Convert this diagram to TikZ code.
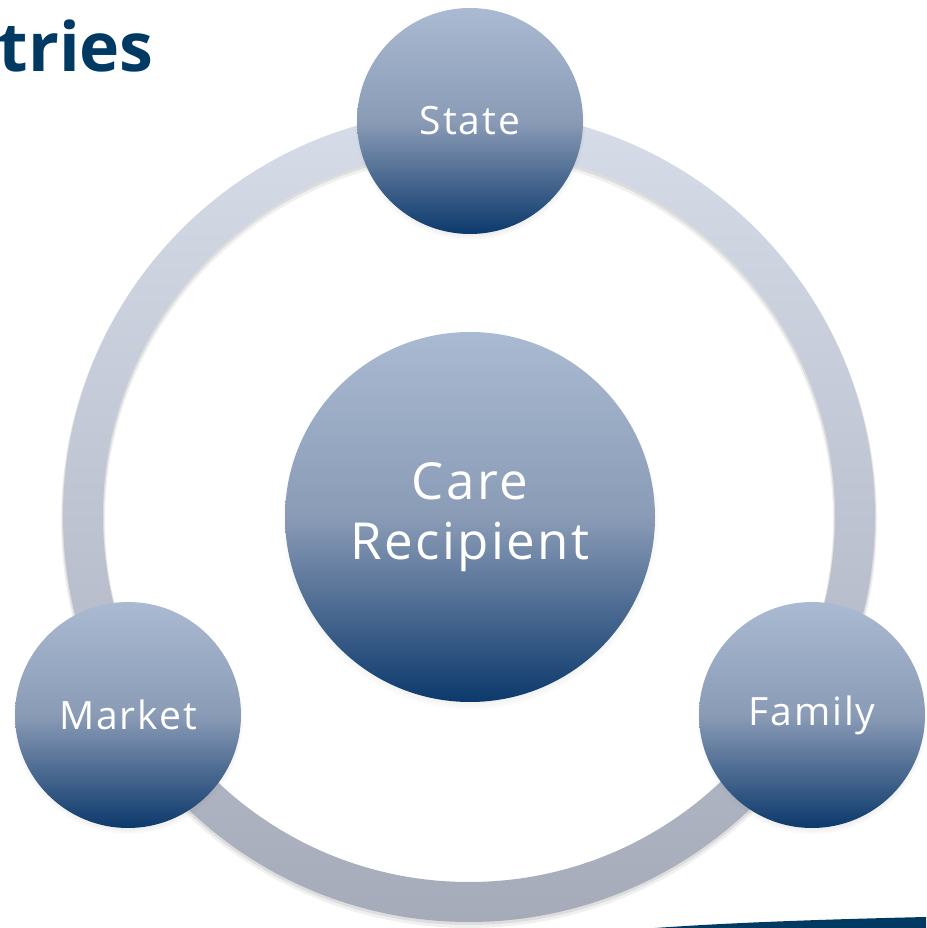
\documentclass[tikz,border=0pt]{standalone}
\usepackage{fontspec}
\setmainfont{Open Sans}
\newfontfamily\labelfont[LetterSpace=5]{Open Sans}
\usetikzlibrary{shadows}
\definecolor{ringtop}{HTML}{D6DCE8}
\definecolor{ringbot}{HTML}{A5ABB9}
\definecolor{ctop}{HTML}{AABAD2}
\definecolor{cmid}{HTML}{8A9BB6}
\definecolor{cbot}{HTML}{0C396C}
\definecolor{navy}{HTML}{003A63}
\begin{document}
\begin{tikzpicture}[x=1pt,y=1pt,
  bubble/.style={circle, inner sep=0pt, text=white, align=center,
    top color=ctop, bottom color=cbot, middle color=cmid,
    circular drop shadow={shadow xshift=0pt, shadow yshift=-4pt, opacity=0.35, shadow scale=1.02}},
  small/.style={bubble, minimum size=226pt, font=\labelfont\fontsize{39}{46}\selectfont},
  big/.style={bubble, minimum size=370pt, font=\labelfont\fontsize{51}{60}\selectfont},
  ringshadow/.style={fill=black, even odd rule}
]
\useasboundingbox (0,0) rectangle (926,928);
\clip (0,0) rectangle (926,928);
% title fragment
\node[anchor=base east, inner sep=0pt, text=navy, font=\fontsize{68}{76}\selectfont\bfseries] (title) at (154,856) {tries};
% ring shadow
\coordinate (rc) at (469,412);
\fill[ringshadow, opacity=0.06] (469,408) circle (408) (469,408) circle (364);
\fill[ringshadow, opacity=0.08] (469,410) circle (407) (469,410) circle (365);
% ring
\shade[top color=ringtop, bottom color=ringbot, even odd rule] (rc) circle (406) (rc) circle (366);
% bottom right swoosh
\fill[navy] (655,0) .. controls (740,6) and (840,9) .. (926,11) -- (926,0) -- cycle;
% bubbles
\node[big] (care) at (470,411) {Care\\Recipient};
\node[small] (state) at (470,807) {State};
\node[small] (market) at (128,213) {Market};
\node[small] (family) at (812,213) {Family};
\end{tikzpicture}
\end{document}
